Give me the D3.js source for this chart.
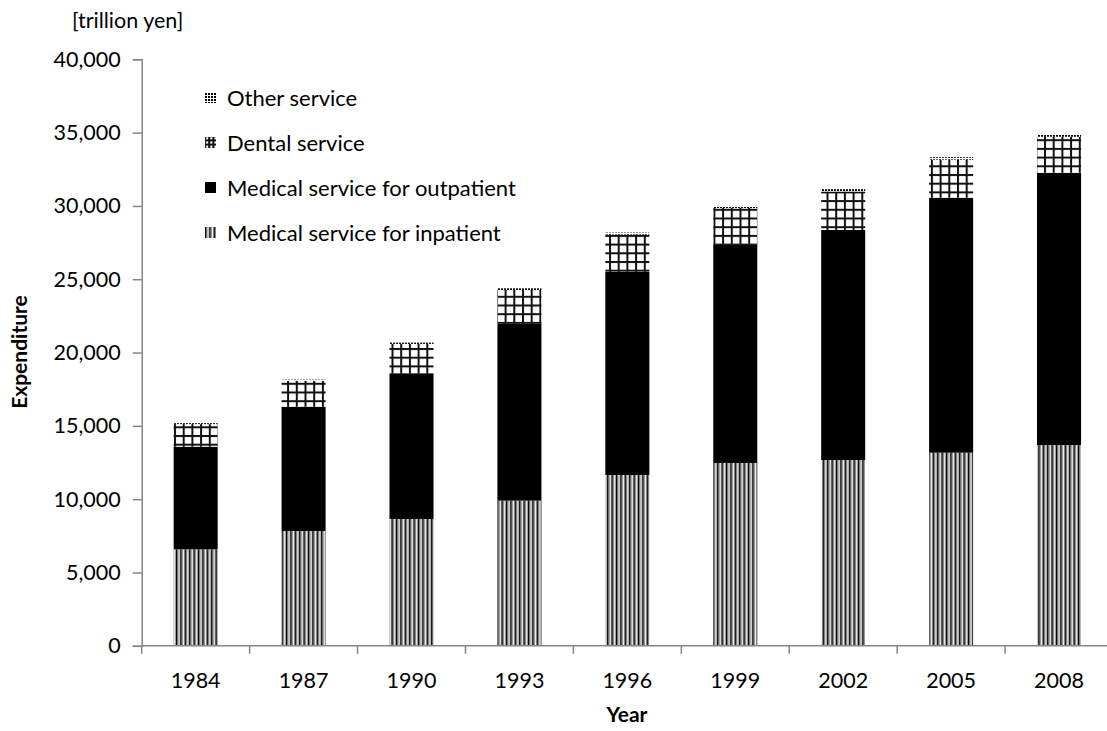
<!DOCTYPE html>
<html>
<head>
<meta charset="utf-8">
<script src="https://cdn.jsdelivr.net/npm/d3@7"></script>
<style>
  html, body { margin: 0; padding: 0; background: #fff; }
  svg { display: block; font-family: Lato, "Noto Sans", sans-serif; }
</style>
</head>
<body>
<svg id="chart" width="1107" height="731"></svg>
<script>
// ---- data ----
const years = ["1984", "1987", "1990", "1993", "1996", "1999", "2002", "2005", "2008"];
const inpatient  = [6580, 7830, 8650, 9900, 11650, 12470, 12670, 13170, 13690];
const outpatient = [7000, 8480, 9940, 12050, 13850, 14870, 15690, 17390, 18570];
const dental     = [1540, 1770, 2000, 2320, 2550, 2520, 2630, 2600, 2460];
const other      = [60, 70, 90, 110, 130, 140, 150, 160, 180];
const seriesNames = ["Medical service for inpatient", "Medical service for outpatient", "Dental service", "Other service"];
const yTicks = [0, 5000, 10000, 15000, 20000, 25000, 30000, 35000, 40000];

const svg = d3.select("#chart");
const defs = svg.append("defs");

// patterns
function stripePattern(id, ox, oy) {
  const p = defs.append("pattern").attr("id", id).attr("patternUnits", "userSpaceOnUse")
    .attr("width", 4.4).attr("height", 4).attr("x", ox || 0).attr("y", oy || 0);
  p.append("rect").attr("width", 4.4).attr("height", 4).attr("fill", "#fff");
  p.append("rect").attr("x", 0).attr("width", 1.4).attr("height", 4).attr("fill", "#000");
  p.append("rect").attr("x", 1.4).attr("width", 1).attr("height", 4).attr("fill", "#777");
  p.append("rect").attr("x", 3.4).attr("width", 1).attr("height", 4).attr("fill", "#999");
}
function gridPattern(id, ox, oy, s) {
  const p = defs.append("pattern").attr("id", id).attr("patternUnits", "userSpaceOnUse")
    .attr("width", s).attr("height", s).attr("x", ox || 0).attr("y", oy || 0);
  p.append("rect").attr("width", s).attr("height", s).attr("fill", "#fff");
  p.append("rect").attr("x", 0).attr("width", 2).attr("height", s).attr("fill", "#111");
  p.append("rect").attr("y", 0).attr("width", s).attr("height", 2).attr("fill", "#111");
}
function checkerPattern(id, ox, oy) {
  const p = defs.append("pattern").attr("id", id).attr("patternUnits", "userSpaceOnUse")
    .attr("width", 3).attr("height", 3).attr("x", ox || 0).attr("y", oy || 0);
  p.append("rect").attr("width", 3).attr("height", 3).attr("fill", "#fff");
  p.append("rect").attr("width", 2).attr("height", 2).attr("fill", "#000");
}
stripePattern("pIn");
gridPattern("pDen", 0, 0, 8.7);
checkerPattern("pOth");

// scales
const x = d3.scaleBand().domain(years).range([141.7, 1113]).paddingInner(0.592).paddingOuter(0.296);
const y = d3.scaleLinear().domain([0, 40000]).range([645.8, 59.3]);

const rows = years.map((yr, i) => ({ year: yr, inpatient: inpatient[i], outpatient: outpatient[i], dental: dental[i], other: other[i] }));
const keys = ["inpatient", "outpatient", "dental", "other"];
const fills = { inpatient: "url(#pIn)", outpatient: "#000", dental: "url(#pDen)", other: "url(#pOth)" };
const stack = d3.stack().keys(keys)(rows);

// bars
svg.append("g").selectAll("g").data(stack).join("g")
  .attr("fill", d => fills[d.key])
  .selectAll("rect").data(d => d).join("rect")
  .attr("x", d => x(d.data.year))
  .attr("width", x.bandwidth())
  .attr("y", d => y(d[1]))
  .attr("height", d => y(d[0]) - y(d[1]));

// axes
const axisColor = "#868686";
const gy = svg.append("g").attr("transform", "translate(141.7,0)")
  .call(d3.axisLeft(y).tickValues(yTicks).tickFormat(d3.format(",")).tickSize(9).tickSizeOuter(9).tickPadding(12));
gy.select(".domain").attr("stroke", axisColor).attr("stroke-width", 1.5);
gy.selectAll(".tick line").attr("stroke", axisColor).attr("stroke-width", 1.5);
gy.selectAll(".tick text").attr("font-size", 21.5).attr("fill", "#000").attr("font-family", "Lato");

const xb = svg.append("g").attr("transform", "translate(0,645.8)");
xb.append("line").attr("x1", 141.7).attr("x2", 1113).attr("stroke", axisColor).attr("stroke-width", 1.5);
const step = x.step();
const bounds = years.map(yr => x(yr) - (step - x.bandwidth()) / 2).concat([x(years[years.length - 1]) + x.bandwidth() + (step - x.bandwidth()) / 2]);
xb.selectAll("line.tk").data(bounds).join("line").attr("class", "tk")
  .attr("x1", d => d).attr("x2", d => d).attr("y1", 0).attr("y2", 8)
  .attr("stroke", axisColor).attr("stroke-width", 1.5);
xb.selectAll("text").data(years).join("text")
  .attr("x", d => x(d) + x.bandwidth() / 2).attr("y", 42)
  .attr("text-anchor", "middle").attr("font-size", 21.5).text(d => d);

// titles
svg.append("text").attr("x", 72).attr("y", 28).attr("font-size", 21.5).text("[trillion yen]");
svg.append("text").attr("transform", "translate(27,352) rotate(-90)").attr("text-anchor", "middle")
  .attr("font-size", 21).attr("font-weight", "bold").text("Expenditure");
svg.append("text").attr("x", 627).attr("y", 722).attr("text-anchor", "middle")
  .attr("font-size", 21).attr("font-weight", "bold").text("Year");

// legend (top to bottom: other, dental, outpatient, inpatient)
stripePattern("lIn", 205, 0);
gridPattern("lDen", 204, 131, 4.2);
checkerPattern("lOth", 205, 0);
const legendItems = [
  { name: seriesNames[3], fill: "url(#lOth)", cy: 98 },
  { name: seriesNames[2], fill: "url(#lDen)", cy: 143 },
  { name: seriesNames[1], fill: "#000", cy: 188 },
  { name: seriesNames[0], fill: "url(#lIn)", cy: 233 }
];
const lg = svg.append("g").selectAll("g").data(legendItems).join("g");
lg.append("rect").attr("x", 205).attr("y", d => d.cy - 6).attr("width", 11).attr("height", 11).attr("fill", d => d.fill);
lg.append("text").attr("x", 227).attr("y", d => d.cy + 7.5).attr("font-size", 22).text(d => d.name);
</script>
</body>
</html>
